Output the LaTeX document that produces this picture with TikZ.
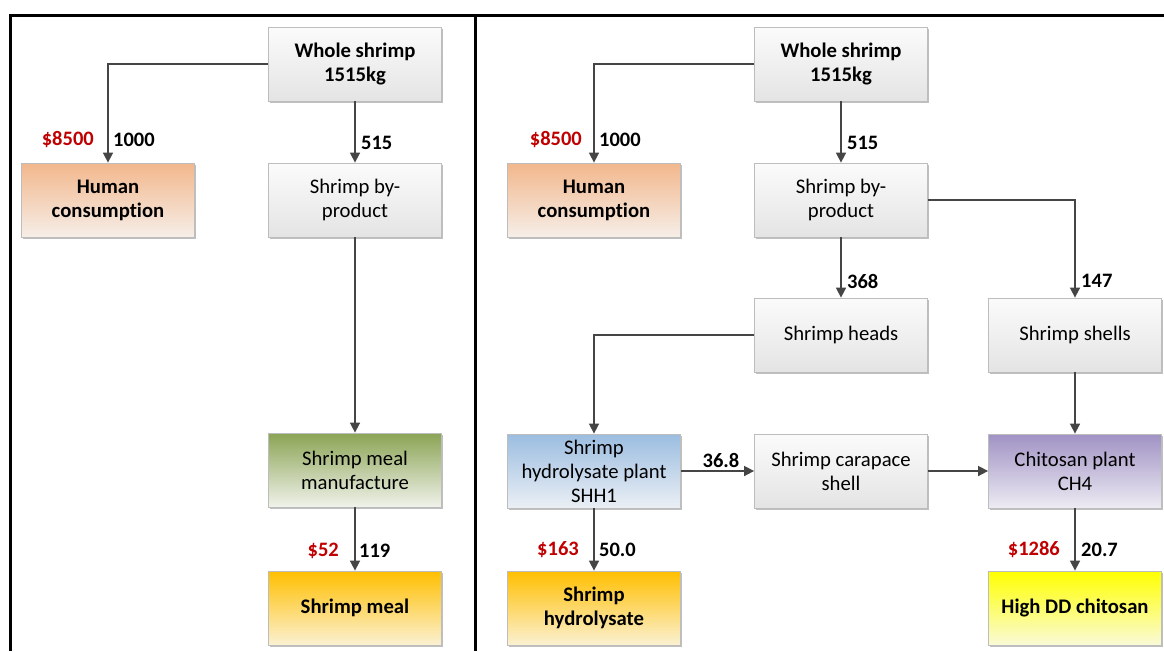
\documentclass[tikz,border=0pt]{standalone}
\usepackage{fontspec}
\setmainfont{Carlito}[Ligatures={NoCommon}]
\usetikzlibrary{shadows,arrows.meta}
\definecolor{arrgray}{HTML}{454545}
\definecolor{boxborder}{HTML}{BDBDBD}
\definecolor{redc}{HTML}{C00000}
\definecolor{graytop}{HTML}{FBFBFB}
\definecolor{graybot}{HTML}{E4E4E4}
\definecolor{orangetop}{HTML}{F2B78C}
\definecolor{orangebot}{HTML}{F6EEE8}
\definecolor{greentop}{HTML}{8BA455}
\definecolor{greenbot}{HTML}{F0F2EA}
\definecolor{goldtop}{HTML}{FFBF00}
\definecolor{goldbot}{HTML}{FBF1D3}
\definecolor{bluetop}{HTML}{9BBDE0}
\definecolor{bluebot}{HTML}{EBEFF5}
\definecolor{purpletop}{HTML}{A092C4}
\definecolor{purplebot}{HTML}{EDEBF3}
\definecolor{yellowtop}{HTML}{FFFF00}
\definecolor{yellowbot}{HTML}{FAFAD8}
\tikzset{
  box/.style={draw=boxborder, line width=0.8pt, minimum width=173pt, minimum height=74pt,
    align=center, font=\fontsize{20.7}{24}\selectfont, inner sep=2pt,
    drop shadow={shadow xshift=1.5pt, shadow yshift=-1.5pt, opacity=0.25, fill=black}},
  graybox/.style={box, top color=graytop, bottom color=graybot},
  orangebox/.style={box, top color=orangetop, bottom color=orangebot},
  greenbox/.style={box, top color=greentop, bottom color=greenbot},
  goldbox/.style={box, top color=goldtop, bottom color=goldbot},
  bluebox/.style={box, top color=bluetop, bottom color=bluebot},
  purplebox/.style={box, top color=purpletop, bottom color=purplebot},
  yellowbox/.style={box, top color=yellowtop, bottom color=yellowbot},
  bold/.style={font=\bfseries\fontsize{20.7}{24}\selectfont},
  arr/.style={draw=arrgray, line width=1.6pt, -{Triangle[length=10pt,width=10pt]}},
  lab/.style={font=\bfseries\fontsize{20.5}{24}\selectfont, inner sep=0pt},
  money/.style={lab, text=redc},
  frame/.style={line width=3pt, black}
}
\begin{document}
\begin{tikzpicture}[x=1pt,y=-1pt]
\useasboundingbox (0,0) rectangle (1164,651);
% frames
\draw[frame] (10,651) -- (10,15) -- (1166,15);
\draw[frame] (475,15) -- (475,651);

% ---------- left panel ----------
\node[graybox, bold] (ws1) at (355,64) {Whole shrimp\\1515kg};
\node[orangebox, bold] (hc1) at (108,200) {Human\\consumption};
\node[graybox] (bp1) at (355,200) {Shrimp by-\\product};
\node[greenbox] (smm) at (355,470) {Shrimp meal\\manufacture};
\node[goldbox, bold] (sm) at (355,608) {Shrimp meal};

\draw[arr] (ws1.west) -| (hc1.north);
\draw[arr] (ws1.south) -- (bp1.north);
\draw[arr] (bp1.south) -- (smm.north);
\draw[arr] (smm.south) -- (sm.north);

\node[money, anchor=east] (m1) at (94,140) {\$8500};
\node[lab, anchor=west] (q1) at (113,140) {1000};
\node[lab, anchor=west] (q2) at (361,143) {515};
\node[money, anchor=east] (m2) at (339,551) {\$52};
\node[lab, anchor=west] (q3) at (359,551) {119};

% ---------- right panel ----------
\node[graybox, bold] (ws2) at (841,64) {Whole shrimp\\1515kg};
\node[orangebox, bold] (hc2) at (594,200) {Human\\consumption};
\node[graybox] (bp2) at (841,200) {Shrimp by-\\product};
\node[graybox] (sh) at (841,335) {Shrimp heads};
\node[graybox] (ss) at (1075,335) {Shrimp shells};
\node[bluebox] (shp) at (594,471) {Shrimp\\hydrolysate plant\\SHH1};
\node[graybox] (car) at (841,471) {Shrimp carapace\\shell};
\node[purplebox] (chp) at (1075,471) {Chitosan plant\\CH4};
\node[goldbox, bold] (shy) at (594,608) {Shrimp\\hydrolysate};
\node[yellowbox, bold] (hdd) at (1075,608) {High DD chitosan};

\draw[arr] (ws2.west) -| (hc2.north);
\draw[arr] (ws2.south) -- (bp2.north);
\draw[arr] (bp2.south) -- (sh.north);
\draw[arr] (bp2.east) -| (ss.north);
\draw[arr] (sh.west) -| (shp.north);
\draw[arr] (ss.south) -- (chp.north);
\draw[arr] (shp.east) -- (car.west);
\draw[arr] (car.east) -- (chp.west);
\draw[arr] (shp.south) -- (shy.north);
\draw[arr] (chp.south) -- (hdd.north);

\node[money, anchor=east] (m3) at (582,140) {\$8500};
\node[lab, anchor=west] (q4) at (599,140) {1000};
\node[lab, anchor=west] (q5) at (847,143) {515};
\node[lab, anchor=west] (q6) at (847,281) {368};
\node[lab, anchor=west] (q7) at (1081,281) {147};
\node[lab] (q8) at (721,460) {36.8};
\node[money, anchor=east] (m4) at (579,550) {\$163};
\node[lab, anchor=west] (q9) at (599,550) {50.0};
\node[money, anchor=east] (m5) at (1060,550) {\$1286};
\node[lab, anchor=west] (q10) at (1081,550) {20.7};
\end{tikzpicture}
\end{document}
